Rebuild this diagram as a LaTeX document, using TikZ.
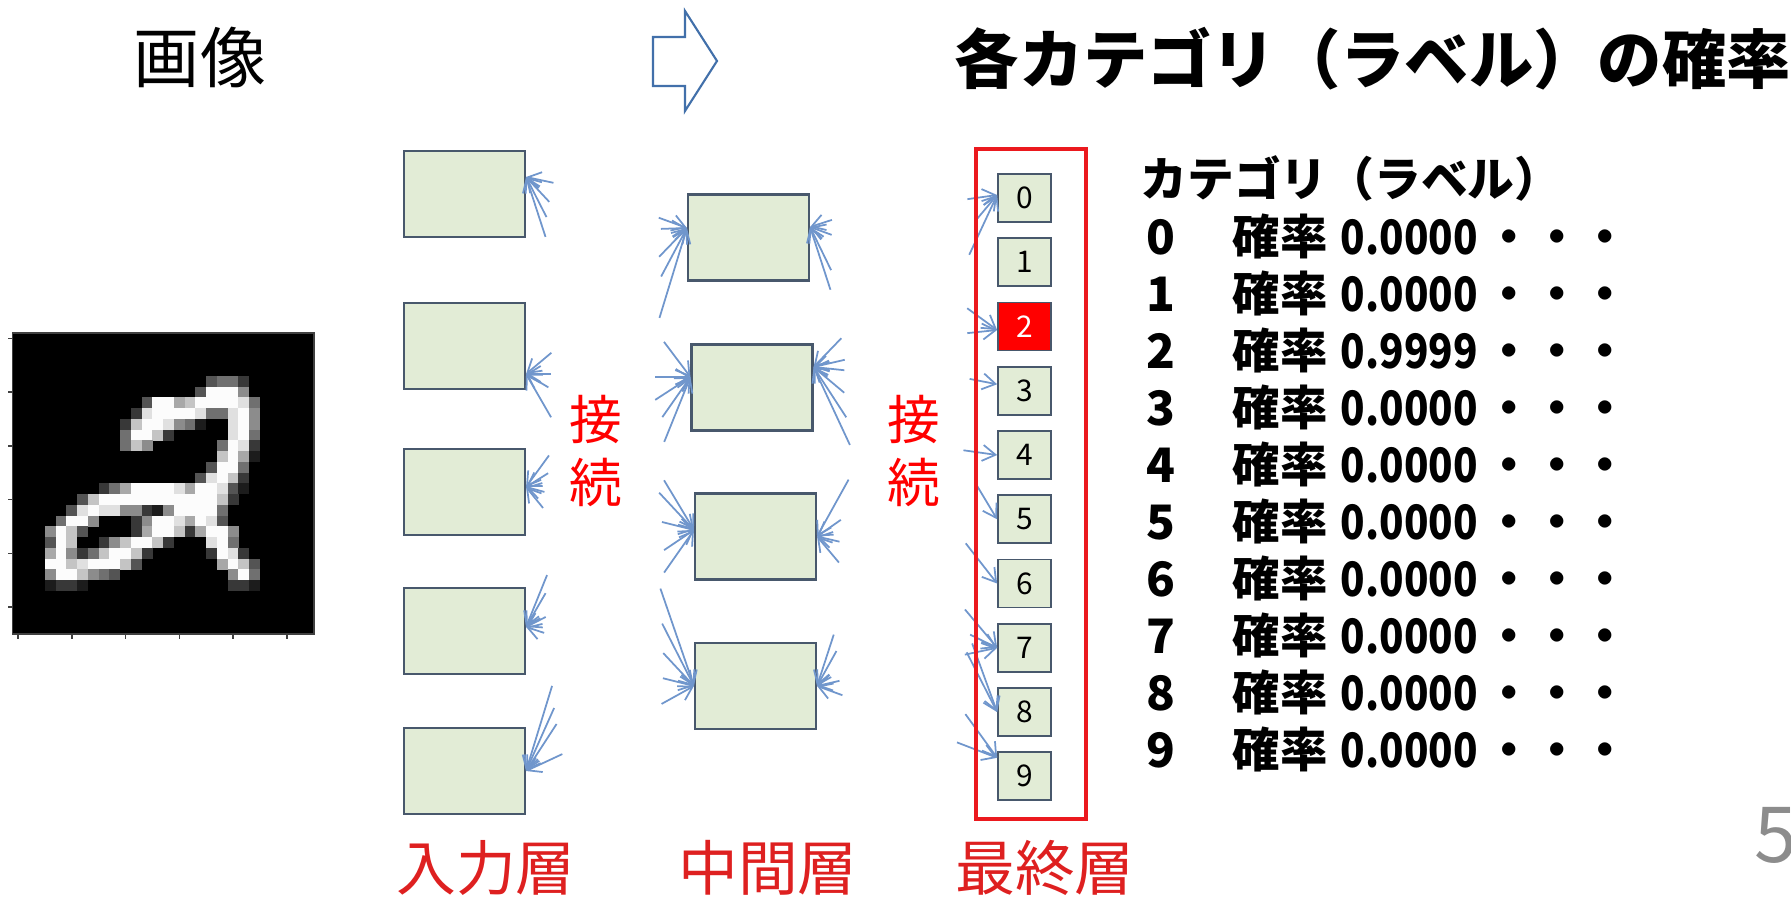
\documentclass[tikz,border=0pt]{standalone}
\usepackage{fontspec}
\setmainfont{Noto Sans CJK JP}
\usetikzlibrary{arrows.meta,positioning}

\definecolor{cellfill}{RGB}{226,236,214}
\definecolor{celldraw}{RGB}{72,88,108}
\definecolor{wireblue}{RGB}{112,150,204}
\definecolor{arrowblue}{RGB}{66,112,170}
\definecolor{layerred}{RGB}{222,32,32}
\definecolor{framered}{RGB}{235,25,30}
\definecolor{pagegray}{RGB}{140,140,140}

% connectors that all end at one point of a box
\newcommand{\fanin}[2]{\foreach \ang/\len in {#2} \draw[wire] (#1) ++(\ang:\len) -- (#1);}

\begin{document}
\begin{tikzpicture}
  [x=0.1mm, y=-0.1mm, inner sep=0pt,
  % STYLES
  % The cell style is used for the units of the input and middle layers
  cell/.style={rectangle, draw=celldraw, fill=cellfill, line width=0.6pt, minimum width=12.1mm, minimum height=8.6mm},
  % The unit style is used for the ten output units
  unit/.style={rectangle, draw=celldraw, fill=cellfill, line width=0.5pt, minimum width=5.3mm, minimum height=4.8mm, font=\fontsize{8.5pt}{10pt}\selectfont},
  wire/.style={draw=wireblue, line width=0.5pt, -{Straight Barb[length=1.3mm, width=1.6mm]}},
  layername/.style={text=layerred, font=\fontsize{17pt}{20pt}\selectfont},
  joinlabel/.style={text=red, align=center, font=\fontsize{15pt}{18.2pt}\selectfont},
  listtext/.style={anchor=base, font=\bfseries\fontsize{13.5pt}{16pt}\selectfont},
  % narrow figures for the probability values
  probtext/.style={anchor=base west, font=\bfseries\fontsize{13.5pt}{16pt}\selectfont\addfontfeatures{FakeStretch=0.85}}]

  \useasboundingbox (0,0) rectangle (1791,901);

  % Input image, 28x28 grey values (0 black ... 9 white)
  \fill[black] (12.7,333) rectangle (314,634);
  \foreach \row/\cells in {
    4/{18/3,19/4,20/4,21/2},
    5/{17/3,18/9,19/9,20/9,21/5},
    6/{12/3,13/9,14/9,15/6,16/7,17/9,18/9,19/9,20/9,21/8,22/4},
    7/{11/2,12/8,13/9,14/9,15/9,16/9,17/8,18/4,19/4,20/8,21/9,22/5},
    8/{10/2,11/7,12/9,13/9,14/8,15/5,16/4,17/1,20/8,21/9,22/5},
    9/{10/4,11/9,12/9,13/7,14/2,20/8,21/9,22/4},
    10/{10/4,11/7,12/5,19/4,20/9,21/8,22/2},
    11/{19/7,20/9,21/6,22/1},
    12/{18/3,19/9,20/9,21/4},
    13/{17/3,18/8,19/9,20/7,21/2},
    14/{8/2,9/4,10/6,11/9,12/9,13/9,14/9,15/8,16/6,17/9,18/9,19/8,20/3,21/1},
    15/{6/3,7/7,8/9,9/9,10/9,11/9,12/9,13/9,14/9,15/9,16/9,17/9,18/9,19/7,20/2},
    16/{5/3,6/8,7/9,8/8,9/8,10/5,11/5,12/2,13/1,14/5,15/9,16/9,17/9,18/9,19/4},
    17/{4/4,5/9,6/9,7/5,11/2,12/5,13/9,14/9,15/8,16/6,17/9,18/8,19/3},
    18/{3/5,4/9,5/7,6/3,11/2,12/6,13/9,14/9,15/7,16/2,17/6,18/9,19/9,20/5},
    19/{3/3,4/9,5/7,8/2,9/5,10/7,11/9,12/9,13/7,14/2,18/8,19/9,20/4},
    20/{3/6,4/9,5/5,6/2,7/4,8/7,9/9,10/9,11/7,12/2,18/2,19/9,20/8,21/2},
    21/{3/9,4/9,5/7,6/8,7/9,8/9,9/9,10/7,11/3,19/6,20/9,21/7,22/3},
    22/{3/5,4/9,5/9,6/7,7/5,8/4,9/3,20/5,21/9,22/4},
    23/{3/1,4/2,5/2,6/1,20/2,21/2,22/1}} {
    \foreach \col/\val in \cells {
      \pgfmathtruncatemacro\grey{\val*11}
      \fill[white!\grey!black] ({12.7+10.75*\col},{333+10.75*\row}) rectangle ++(10.9,10.9);
    }
  }
  % axes frame and ticks
  \draw[black!75, line width=0.4pt] (12.7,333) rectangle (314,634);
  \foreach \k in {0,5,...,25} {
    \draw[black!75, line width=0.4pt] ({12.7+10.75*(\k+0.5)},634) -- ++(0,5);
    \draw[black!75, line width=0.4pt] (12.7,{333+10.75*(\k+0.5)}) -- ++(-5,0);
  }

  % Header
  \node[font=\fontsize{18.8pt}{22pt}\selectfont] (imglabel) at (200,57) {画像};
  \draw[arrowblue, line width=0.6pt, fill=white] (653,37) -- (685,37) -- (685,11) -- (717,61) -- (685,111) -- (685,86) -- (653,86) -- cycle;
  \node[anchor=west, font=\bfseries\fontsize{18.3pt}{22pt}\selectfont] (title) at (954,59) {各カテゴリ（ラベル）の確率};

  % Input layer
  \node[cell] (in1) at (464.5,194) {};
  \node[cell] (in2) at (464.5,346) {};
  \node[cell] (in3) at (464.5,492) {};
  \node[cell] (in4) at (464.5,631) {};
  \node[cell] (in5) at (464.5,771) {};
  % Middle layer
  \node[cell] (mid1) at (748.5,237.5) {};
  \node[cell] (mid2) at (752,387.5) {};
  \node[cell] (mid3) at (755.5,536.5) {};
  \node[cell] (mid4) at (755.5,686) {};
  % Output layer
  \node[unit] (o0) at (1024.5,198) {0};
  \node[unit, below=1.45mm of o0] (o1) {1};
  \node[unit, below=1.45mm of o1, fill=red, text=white] (o2) {2};
  \node[unit, below=1.45mm of o2] (o3) {3};
  \node[unit, below=1.45mm of o3] (o4) {4};
  \node[unit, below=1.45mm of o4] (o5) {5};
  \node[unit, below=1.45mm of o5] (o6) {6};
  \node[unit, below=1.45mm of o6] (o7) {7};
  \node[unit, below=1.45mm of o7] (o8) {8};
  \node[unit, below=1.45mm of o8] (o9) {9};

  % Connectors into the input layer
  \fanin{[yshift=1.7mm]in1.east}{12/28, 47/34, 63/45, 72/63}
  \fanin{[yshift=-2.8mm]in2.east}{-40/33, 0/25, 31/26, 60/50}
  \fanin{[yshift=0.5mm]in3.east}{-54/39, -32/26, 15/19, 51/27}
  \fanin{[yshift=0.4mm]in4.east}{-68/56, -60/39, -27/22, 18/19}
  \fanin{in5.east}{-73/89, -66/69, -57/56, -25/40}
  % Connectors into the middle layer
  \fanin{[yshift=0.95mm]mid1.west}{200/30, 178/26, 134/40, 118/55, 107/94}
  \fanin{[yshift=1.05mm]mid1.east}{-18/23, 20/23, 64/48, 72/66}
  \fanin{[yshift=1.05mm]mid2.west}{233/44, 180/35, 147/42, 125/49, 112/70}
  \fanin{[yshift=2.05mm]mid2.east}{-46/40, -13/32, 6/31, 40/40, 57/60, 65/86}
  \fanin{[yshift=0.65mm]mid3.west}{239/58, 227/51, 194/33, 146/36, 125/52}
  \fanin{mid3.east}{-61/65, -35/29, 13/23, 50/34}
  \fanin{mid4.west}{251/103, 243/70, 227/45, 194/32, 151/37}
  \fanin{mid4.east}{-72/54, -61/40, -13/23, 20/27}
  % Connectors into the output layer
  \fanin{[yshift=0.3mm]o0.west}{172/30, 130/31, 115/66}
  \fanin{[yshift=-0.35mm]o2.west}{216/37, 174/30}
  \fanin{[yshift=0.65mm]o3.west}{191/28}
  \fanin{o4.west}{188/34}
  \fanin{o5.west}{239/39}
  \fanin{o6.west}{232/51}
  \fanin{o7.west}{230/50, 206/30, 168/33}
  \fanin{o8.west}{250/73, 243/67}
  \fanin{[yshift=1.85mm]o9.west}{234/54, 201/43}

  % frame round the output layer
  \draw[framered, line width=1.15pt] ([shift={(-2.1mm,2.4mm)}]o0.north west) rectangle ([shift={(3.4mm,-1.8mm)}]o9.south east);

  % Labels
  \node[joinlabel] (join1) at (596,451) {接\\続};
  \node[joinlabel] (join2) at (914,451) {接\\続};
  \node[layername] (inname) at (486,868) {入力層};
  \node[layername] (midname) at (768,868) {中間層};
  \node[layername] (outname) at (1045,868) {最終層};

  % Probabilities per category
  \node[anchor=base west, font=\bfseries\fontsize{13.3pt}{16pt}\selectfont] (cathead) at (1140,197) {カテゴリ（ラベル）};
  \foreach \i/\prob in {0/0.0000, 1/0.0000, 2/0.9999, 3/0.0000, 4/0.0000, 5/0.0000, 6/0.0000, 7/0.0000, 8/0.0000, 9/0.0000} {
    \node[listtext] (cat\i) at (1161,{255+57*\i}) {\i};
    \node[listtext] (word\i) at (1280,{255+57*\i}) {確率};
    \node[probtext] (prob\i) at (1340,{255+57*\i}) {\prob};
    \foreach \x [count=\n] in {1509,1557,1605}
      \node[listtext] (dot\i-\n) at (\x,{255+57*\i}) {・};
  }

  \node[anchor=base west, text=pagegray, font=\fontsize{22pt}{26pt}\selectfont] (pagenum) at (1754,863) {5};
\end{tikzpicture}
\end{document}
